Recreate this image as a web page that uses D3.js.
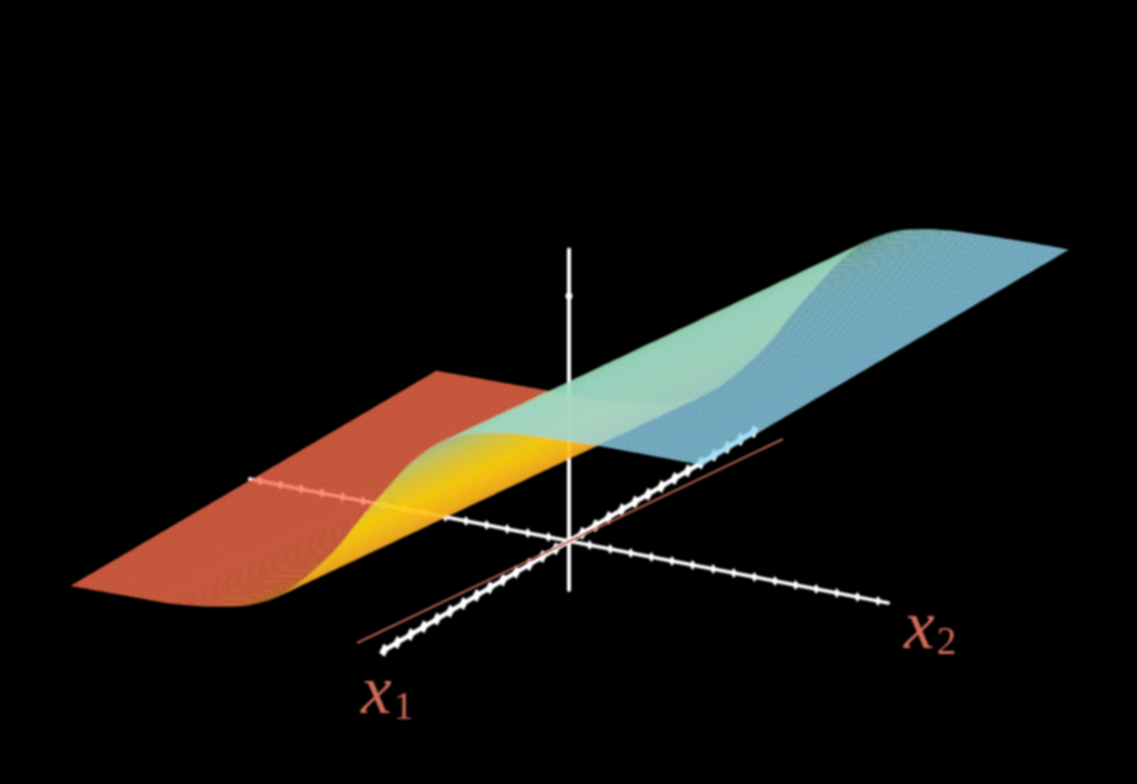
<!DOCTYPE html>
<html><head><meta charset="utf-8">
<script src="https://cdn.jsdelivr.net/npm/d3@7"></script>
<style>html,body{margin:0;padding:0;background:#000;overflow:hidden}svg{display:block}</style>
</head><body><svg id="c" width="1137" height="784"></svg>
<script>
// profile of the surface height read along its rising direction
const profileW = [-18,-9,-8,-7,-6,-5.5,-5,-4.5,-4,-3.5,-3,-2.5,-2,-1.5,-1,-0.5,0,0.5,1,1.5,2,2.5,3,3.5,4,4.5,5,5.5,6,7,8,10,12,18];
const profileZ = [0,0.012,0.02,0.032,0.048,0.058,0.072,0.09,0.11,0.14,0.175,0.215,0.26,0.305,0.355,0.41,0.475,0.535,0.59,0.645,0.70,0.755,0.80,0.84,0.875,0.90,0.922,0.94,0.953,0.97,0.982,0.99,0.996,1];
const ridgeSkew = 0.114;
const x1Domain = [-14,14];
const x2Domain = [-15.5,15.5];
const surfX1 = [-13.8,13.9];
const surfX2 = [-15.35,15.35];
const zDomain = [-0.2,1.19];
const colorZ = [0,0.05,0.13,0.28,0.45,0.62,0.8,0.92,1];
const colorV = ["#fc6e4e","#fc7a48","#ffb526","#ffcf10","#ffe404","#dfe23c","#aee088","#9ce0c8","#92d6f2"];
const cellAlpha = 0.85;
const W=1137,H=784,O=[569,541];

const sx1=d3.scaleLinear().domain([0,1]).range([0,13.2]);
const sy1=d3.scaleLinear().domain([0,1]).range([0,-7.8]);
const sx2=d3.scaleLinear().domain([0,1]).range([0,20.6]);
const sy2=d3.scaleLinear().domain([0,1]).range([0,4.0]);
const sz=d3.scaleLinear().domain([0,1]).range([0,-245]);
const proj=(a,b,z)=>[O[0]+sx1(a)+sx2(b), O[1]+sy1(a)+sy2(b)+sz(z)];
const height=d3.scaleLinear().domain(profileW).range(profileZ).clamp(true);
const f=(a,b)=>height(b-ridgeSkew*a);
const color=d3.scaleLinear().domain(colorZ).range(colorV).interpolate(d3.interpolateRgb);

const svg=d3.select("#c");
svg.append("rect").attr("width",W).attr("height",H).attr("fill","#000");
const defs=svg.append("defs");
defs.append("filter").attr("id","soft").attr("filterUnits","userSpaceOnUse")
  .attr("x",0).attr("y",0).attr("width",W).attr("height",H)
  .append("feGaussianBlur").attr("stdDeviation",0.8);
const g=svg.append("g").attr("filter","url(#soft)");

const seg=(p,q,w,c)=>g.append("line").attr("x1",p[0]).attr("y1",p[1]).attr("x2",q[0]).attr("y2",q[1])
  .attr("stroke",c).attr("stroke-width",w).attr("stroke-linecap","round");

// z axis
seg(proj(0,0,zDomain[0]),proj(0,0,zDomain[1]),4,"#fff");
g.append("circle").attr("cx",proj(0,0,1)[0]).attr("cy",proj(0,0,1)[1]).attr("r",3.5).attr("fill","#fff");

// x1 axis
seg(proj(x1Domain[0],0,0),proj(x1Domain[1],0,0),4.6,"#fff");
g.selectAll("path.t1").data(d3.range(x1Domain[0],x1Domain[1]+1)).join("path").attr("class","t1")
  .attr("d",d=>{const p=proj(d,0,0);return `M${p[0]-5},${p[1]+2.5}L${p[0]-0.5},${p[1]-6.5}L${p[0]+5},${p[1]-2.5}L${p[0]+0.5},${p[1]+6.5}Z`;})
  .attr("fill","#fff");
// x2 axis
seg(proj(0,x2Domain[0],0),proj(0,x2Domain[1],0),3.6,"#fff");
g.selectAll("path.t2").data(d3.range(-15,16)).join("path").attr("class","t2")
  .attr("d",d=>{const p=proj(0,d,0);return `M${p[0]-3.5},${p[1]}L${p[0]},${p[1]-5}L${p[0]+3.5},${p[1]}L${p[0]},${p[1]+5}Z`;})
  .attr("fill","#fff");

// surface
const nA=80, nB=124;
const stepA=(surfX1[1]-surfX1[0])/nA, stepB=(surfX2[1]-surfX2[0])/nB;
const cells=[];
for(let j=0;j<nB;j++)for(let i=0;i<nA;i++){
  cells.push({a:surfX1[0]+i*stepA,b:surfX2[0]+j*stepB});
}
const fmt=p=>p[0].toFixed(2)+","+p[1].toFixed(2);
g.append("g").selectAll("path").data(cells).join("path")
  .attr("d",d=>{
    const a=d.a,b=d.b,a2=a+stepA,b2=b+stepB;
    return "M"+fmt(proj(a,b,f(a,b)))+"L"+fmt(proj(a2,b,f(a2,b)))+"L"+fmt(proj(a2,b2,f(a2,b2)))+"L"+fmt(proj(a,b2,f(a,b2)))+"Z";
  })
  .attr("fill",d=>color(f(d.a+stepA/2,d.b+stepB/2)))
  .attr("fill-opacity",cellAlpha);

// boundary line in the plane
svg.append("line").attr("filter","url(#soft)")
  .attr("x1",357).attr("y1",643).attr("x2",783).attr("y2",439)
  .attr("stroke","#b8604e").attr("stroke-width",2.1);

// labels
const lab=svg.append("g").attr("fill","#d26c5a")
  .attr("font-family","'Liberation Serif',serif").attr("filter","url(#soft)");
const l1=lab.append("text").attr("x",361).attr("y",713);
l1.append("tspan").attr("font-size",69).attr("font-style","italic").text("x");
l1.append("tspan").attr("font-size",39).attr("dx",2).attr("dy",6).text("1");
const l2=lab.append("text").attr("x",904).attr("y",648);
l2.append("tspan").attr("font-size",69).attr("font-style","italic").text("x");
l2.append("tspan").attr("font-size",39).attr("dx",2).attr("dy",6).text("2");
</script></body></html>
